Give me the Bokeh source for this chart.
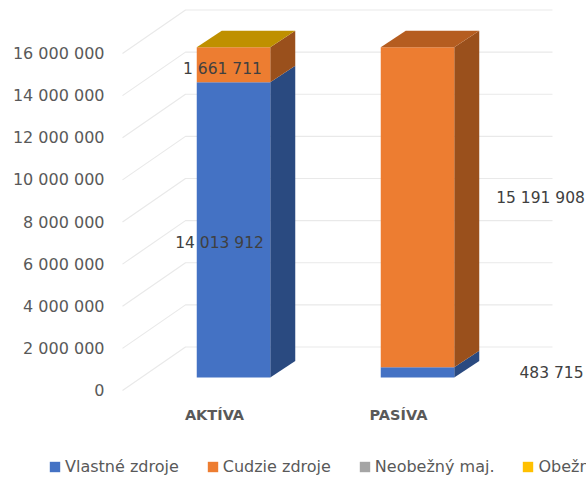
from bokeh.plotting import figure
from bokeh.models import Range1d, FixedTicker, Legend, LegendItem, LinearAxis
from bokeh.embed import file_html
from bokeh.resources import INLINE
from bokeh.core.properties import value

# ---- data ----
categories = ["AKTÍVA", "PASÍVA"]
series_names = ["Vlastné zdroje", "Cudzie zdroje", "Neobežný maj.", "Obežný maj."]
vlastne = [14013912, 483715]
cudzie = [1661711, 15191908]
neobezny = [0, 0]
obezny = [0, 0]
tick_values = [0, 2000000, 4000000, 6000000, 8000000, 10000000, 12000000, 14000000, 16000000]
tick_labels = ["0", "2 000 000", "4 000 000", "6 000 000", "8 000 000",
               "10 000 000", "12 000 000", "14 000 000", "16 000 000"]

# ---- style ----
front_colors = ["#4472C4", "#ED7D31", "#A5A5A5", "#FFC000"]
side_colors = ["#2A4A80", "#9A501C", "#6B6B6B", "#A67C00"]
top_colors = ["#BF9000", "#B55D20"]
FONT = "DejaVu Sans"
TXT = "#595959"
LBL = "#404040"

PX_Y = 1e6 / 21.0625      # value units per pixel
PX_X = 1 / 184.0          # category units per pixel
AXIS_Y = 390              # px of value 0 in the axis plane
AXIS_X = 122              # px of the plane's left edge
BAR0_X = 233              # px of first bar's centre
BAR_W = 73.5 * PX_X
FRONT_DY = 13 * PX_Y      # bar front relative to axis plane
DEPTH_X = 25 * PX_X
DEPTH_Y = 16.5 * PX_Y
WALL_X = 185              # px of back-wall left edge
WALL_END = 552            # px of back-wall right edge
WALL_DY = 43.5 * PX_Y
FRAME_L, FRAME_W, FRAME_H = 112, 474, 400
CHART_H, LEGEND_H = 440, 41


def xpx(px):
    return (px - BAR0_X) * PX_X


p = figure(width=586, height=CHART_H, output_backend="svg", toolbar_location=None,
           x_range=Range1d(xpx(FRAME_L), xpx(FRAME_L + FRAME_W)),
           y_range=Range1d((AXIS_Y - FRAME_H) * PX_Y, AXIS_Y * PX_Y),
           min_border_left=FRAME_L, min_border_right=0, min_border_top=0,
           min_border_bottom=CHART_H - FRAME_H,
           x_axis_type=None, y_axis_type=None, outline_line_color=None,
           border_fill_color="white", background_fill_color="white")
p.grid.visible = False

# y axis
ya = LinearAxis(ticker=FixedTicker(ticks=tick_values),
                major_label_overrides=dict(zip(tick_values, tick_labels)))
ya.axis_line_color = None
ya.major_tick_line_color = None
ya.minor_tick_line_color = None
ya.major_tick_out = 0
ya.major_label_standoff = 8
ya.major_label_text_font = FONT
ya.major_label_text_font_size = "16px"
ya.major_label_text_color = TXT
p.add_layout(ya, "left")

positions = [0, 1]

# x axis
label_ticks = [round(i - 19 * PX_X, 4) for i in positions]
xa = LinearAxis(ticker=FixedTicker(ticks=label_ticks),
                major_label_overrides=dict(zip(label_ticks, categories)))
xa.axis_line_color = None
xa.major_tick_line_color = None
xa.minor_tick_line_color = None
xa.major_tick_out = 0
xa.major_label_standoff = 6
xa.major_label_text_font = FONT
xa.major_label_text_font_size = "14.5px"
xa.major_label_text_font_style = "bold"
xa.major_label_text_color = TXT
p.add_layout(xa, "below")

# walls
for v in tick_values:
    p.line([xpx(AXIS_X), xpx(WALL_X), xpx(WALL_END)], [v, v + WALL_DY, v + WALL_DY],
           line_color="#E9E9E9", line_width=1.2)

# stacks
all_series = [vlastne, cudzie, neobezny, obezny]
bottoms = [0, 0]
seg_mids = []
for s, vals in enumerate(all_series):
    tops = [b + v for b, v in zip(bottoms, vals)]
    lefts = [i - BAR_W / 2 for i in positions]
    rights = [i + BAR_W / 2 for i in positions]
    for r, b, t in zip(rights, bottoms, tops):
        if t > b:
            p.patch([r, r + DEPTH_X, r + DEPTH_X, r],
                    [b + FRONT_DY, b + FRONT_DY + DEPTH_Y, t + FRONT_DY + DEPTH_Y, t + FRONT_DY],
                    fill_color=side_colors[s], line_color=None)
    p.quad(left=lefts, right=rights,
           bottom=[b + FRONT_DY for b in bottoms], top=[t + FRONT_DY for t in tops],
           fill_color=front_colors[s], line_color=None)
    seg_mids.append([(b + t) / 2 for b, t in zip(bottoms, tops)])
    bottoms = tops

# top faces
for i, t, c in zip(positions, bottoms, top_colors):
    l, r = i - BAR_W / 2, i + BAR_W / 2
    y0 = t + FRONT_DY
    p.patch([l, r, r + DEPTH_X, l + DEPTH_X], [y0, y0, y0 + DEPTH_Y, y0 + DEPTH_Y],
            fill_color=c, line_color=None)

# data labels
lab_text = ["14 013 912", "483 715", "1 661 711", "15 191 908"]
lab_x = [positions[0] - 14 * PX_X, positions[1] + 134 * PX_X,
         positions[0] - 11 * PX_X, positions[1] + 123 * PX_X]
lab_y = [seg_mids[0][0], seg_mids[0][1], seg_mids[1][0], seg_mids[1][1]]
lab_dy = [0, -12, -9, -22]
p.text(x=lab_x, y=lab_y, text=lab_text, y_offset=lab_dy,
       text_font=value(FONT), text_font_size="15.5px", text_color=LBL,
       text_align="center", text_baseline="middle")

# legend strip: a separate root, its frame spans the page width and crops the last entry
q = figure(width=586, height=LEGEND_H, output_backend="svg", toolbar_location=None,
           x_range=Range1d(0, 586), y_range=Range1d(0, LEGEND_H),
           min_border=0, x_axis_type=None, y_axis_type=None, outline_line_color=None,
           border_fill_color="white", background_fill_color="white")
q.grid.visible = False
items = []
for s, name in enumerate(series_names):
    r = q.quad(left=[-9], right=[-8], bottom=[-9], top=[-8], fill_color=front_colors[s], line_color=None)
    items.append(LegendItem(label=name, renderers=[r]))
legend = Legend(items=items, orientation="horizontal", location=(48, 5),
                border_line_color=None, background_fill_alpha=0,
                label_text_font=FONT, label_text_font_size="16px", label_text_color=TXT,
                glyph_width=13, glyph_height=13, label_standoff=4, spacing=27,
                padding=0, margin=0)
q.add_layout(legend, "center")

open("out.html", "w").write(file_html([p, q], INLINE))
